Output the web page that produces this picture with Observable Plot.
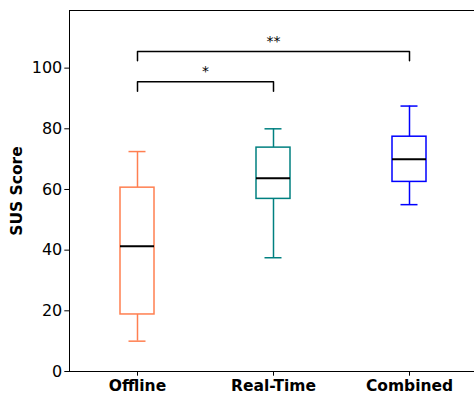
<!DOCTYPE html>
<html>
<head>
<meta charset="utf-8">
<script src="https://cdn.jsdelivr.net/npm/d3@7"></script>
<script src="https://cdn.jsdelivr.net/npm/@observablehq/plot@0.6"></script>
<style>
  html, body { margin: 0; padding: 0; background: white; overflow: hidden; }
  #chart svg { display: block; }
  g[aria-label="x-axis tick label"] text { font-weight: bold; }
</style>
</head>
<body>
<div id="chart"></div>
<script>
const categories = ["Offline", "Real-Time", "Combined"];
const whiskerLow = [10, 37.5, 55];
const q1 = [18.8, 56.9, 62.5];
const median = [41.25, 63.7, 70];
const q3 = [60.6, 73.8, 77.4];
const whiskerHigh = [72.5, 80, 87.5];
const boxColors = ["#FF7F50", "#008080", "#0000FF"];
const yTicks = [0, 20, 40, 60, 80, 100];
const comparisons = [
  { a: 0, b: 1, y: 95.5, drop: 3.1, label: "*" },
  { a: 0, b: 2, y: 105.5, drop: 3.1, label: "**" }
];

const halfBox = 0.125;
const halfCap = 0.0625;

const rows = categories.map((c, i) => ({
  cat: c, pos: i + 1,
  lo: whiskerLow[i], q1: q1[i], med: median[i], q3: q3[i], hi: whiskerHigh[i],
  color: boxColors[i]
}));

const bracketPts = comparisons.flatMap((c, k) => [
  { x: c.a + 1, y: c.y - c.drop, k },
  { x: c.a + 1, y: c.y, k },
  { x: c.b + 1, y: c.y, k },
  { x: c.b + 1, y: c.y - c.drop, k }
]);

const font = "DejaVu Sans";

const chart = Plot.plot({
  width: 474,
  height: 398,
  marginLeft: 69,
  marginRight: -3,
  marginTop: 10,
  marginBottom: 27,
  style: { fontFamily: font, background: "white", color: "black", overflow: "hidden" },
  x: { domain: [0.5, 3.5] },
  y: { domain: [0, 119] },
  color: { type: "identity" },
  marks: [
    Plot.frame({ stroke: "black", strokeWidth: 1 }),
    Plot.ruleX(rows, { x: "pos", y1: "lo", y2: "q1", stroke: "color", strokeWidth: 1.5 }),
    Plot.ruleX(rows, { x: "pos", y1: "q3", y2: "hi", stroke: "color", strokeWidth: 1.5 }),
    Plot.rect(rows, { x1: d => d.pos - halfBox, x2: d => d.pos + halfBox, y1: "q1", y2: "q3", fill: "white", stroke: "color", strokeWidth: 1.5 }),
    Plot.ruleY(rows, { y: "lo", x1: d => d.pos - halfCap, x2: d => d.pos + halfCap, stroke: "color", strokeWidth: 1.5 }),
    Plot.ruleY(rows, { y: "hi", x1: d => d.pos - halfCap, x2: d => d.pos + halfCap, stroke: "color", strokeWidth: 1.5 }),
    Plot.ruleY(rows, { y: "med", x1: d => d.pos - halfBox, x2: d => d.pos + halfBox, stroke: "black", strokeWidth: 2 }),
    Plot.line(bracketPts, { x: "x", y: "y", z: "k", stroke: "black", strokeWidth: 1.5 }),
    Plot.text(comparisons, { x: c => (c.a + c.b) / 2 + 1, y: "y", text: "label", lineAnchor: "bottom", dy: -5.5, fontSize: 14, fill: "black" }),
    Plot.axisY({ ticks: yTicks, tickSize: 4.7, tickPadding: 2.5, fontSize: 16, label: null, stroke: "black", fill: "black" }),
    Plot.axisX({ ticks: [1, 2, 3], tickFormat: d => categories[d - 1], tickSize: 4.7, tickPadding: 4, fontSize: 15.5, fontWeight: "bold", label: null, stroke: "black", fill: "black" }),
    Plot.text(["SUS Score"], { frameAnchor: "left", dx: -52, rotate: -90, textAnchor: "middle", lineAnchor: "middle", text: d => d, fontSize: 15.5, fontWeight: "bold", fill: "black" })
  ]
});

document.getElementById("chart").appendChild(chart);
</script>
</body>
</html>
